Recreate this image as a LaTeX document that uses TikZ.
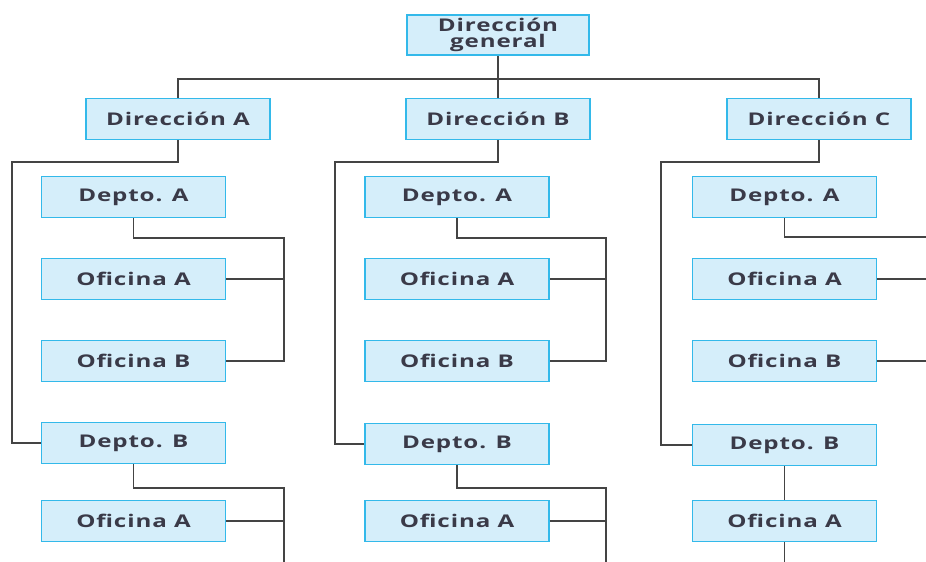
\documentclass[tikz,border=0pt]{standalone}
\usepackage{fontspec}
\setmainfont{Open Sans}
\newfontfamily\boxfont[LetterSpace=5, FakeStretch=1.38, BoldFeatures={FakeStretch=1.38}]{Open Sans}
\definecolor{boxfill}{HTML}{D5EEFA}
\definecolor{boxline}{HTML}{33B9EA}
\definecolor{wire}{HTML}{444444}
\definecolor{ink}{HTML}{3A3A48}
\begin{document}
\begin{tikzpicture}[x=1pt,y=-1pt,
  unit/.style={draw=boxline, line width=1.6pt, fill=boxfill, minimum width=184pt,
    minimum height=41pt, inner sep=0pt, text=ink, font=\boxfont\fontsize{17.5}{17.5}\selectfont\bfseries, align=center},
  link/.style={draw=wire, line width=1.8pt}]
\useasboundingbox (0,0) rectangle (926,562);
\clip (0,0) rectangle (926,562);

% top level
\node[unit, minimum width=182pt, minimum height=40pt,
  font=\boxfont\fontsize{17.5}{16.5}\selectfont\bfseries] (gen) at (498,35) {Dirección\\general};
\node[unit] (dA) at (178,119) {Dirección A};
\node[unit] (dB) at (498,119) {Dirección B};
\node[unit] (dC) at (819,119) {Dirección C};

% column A
\node[unit] (aDa)  at (133.5,197) {Depto. A};
\node[unit] (aOa)  at (133.5,279) {Oficina A};
\node[unit] (aOb)  at (133.5,361) {Oficina B};
\node[unit] (aDb)  at (133.5,443) {Depto. B};
\node[unit] (aOa2) at (133.5,521) {Oficina A};

% column B
\node[unit] (bDa)  at (457,197) {Depto. A};
\node[unit] (bOa)  at (457,279) {Oficina A};
\node[unit] (bOb)  at (457,361) {Oficina B};
\node[unit] (bDb)  at (457,444) {Depto. B};
\node[unit] (bOa2) at (457,521) {Oficina A};

% column C
\node[unit] (cDa)  at (784.5,197) {Depto. A};
\node[unit] (cOa)  at (784.5,279) {Oficina A};
\node[unit] (cOb)  at (784.5,361) {Oficina B};
\node[unit] (cDb)  at (784.5,445) {Depto. B};
\node[unit] (cOa2) at (784.5,521) {Oficina A};

% free ends at the page edges
\coordinate (bus) at (498,79);
\coordinate (aEnd) at (284,562);
\coordinate (bEnd) at (606,562);
\coordinate (cEnd) at (784.5,562);
\coordinate (cTurn) at (784.5,237);
\coordinate (cRim) at (926,0);

% general direction to the three directions
\draw[link] (gen.south) -- (bus);
\draw[link] (dA.north) |- (bus) -| (dC.north);
\draw[link] (bus) -- (dB.north);

% directions to their departments
\draw[link] (dA.south) -- ++(0,22) -| (12,443) -- (aDb.west);
\draw[link] (dB.south) -- ++(0,22) -| (335,444) -- (bDb.west);
\draw[link] (dC.south) -- ++(0,22) -| (661,445) -- (cDb.west);

% column A offices
\draw[link] (aDa.south) -- ++(0,20) -| (284,0 |- aOb.east) -- (aOb.east);
\draw[link] (aOa.east) -- (284,0 |- aOa.east);
\draw[link] (aDb.south) -- ++(0,23.5) -| (aEnd);
\draw[link] (aOa2.east) -- (284,0 |- aOa2.east);

% column B offices
\draw[link] (bDa.south) -- ++(0,20) -| (606,0 |- bOb.east) -- (bOb.east);
\draw[link] (bOa.east) -- (606,0 |- bOa.east);
\draw[link] (bDb.south) -- ++(0,22.5) -| (bEnd);
\draw[link] (bOa2.east) -- (606,0 |- bOa2.east);

% column C offices
\draw[link] (cDa.south) -- (cTurn) -- (cRim |- cTurn);
\draw[link] (cOa.east) -- (cRim |- cOa.east);
\draw[link] (cOb.east) -- (cRim |- cOb.east);
\draw[link] (cDb.south) -- (cOa2.north);
\draw[link] (cOa2.south) -- (cEnd);
\end{tikzpicture}
\end{document}
